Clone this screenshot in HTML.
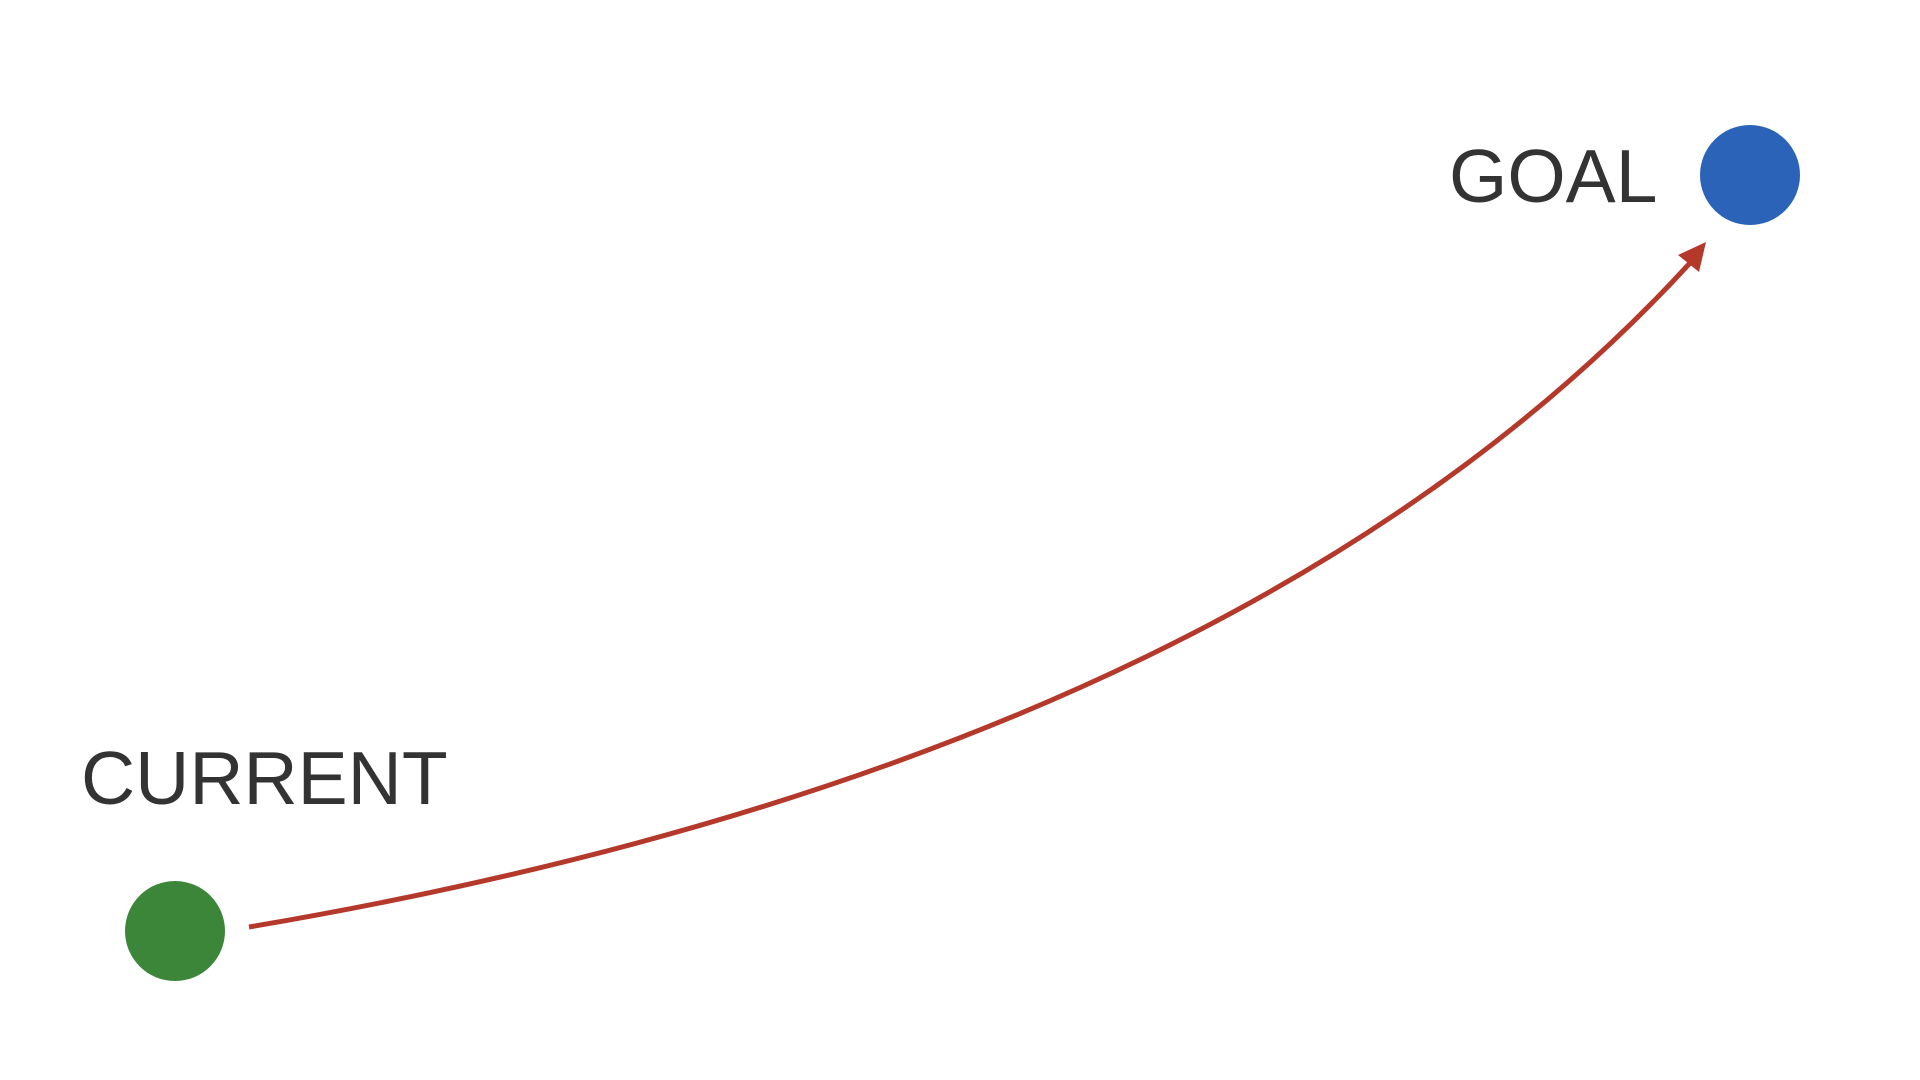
<!DOCTYPE html>
<html>
<head>
<meta charset="utf-8">
<style>
  html, body { margin: 0; padding: 0; background: #ffffff; }
  svg { display: block; }
  text { font-family: "Liberation Sans", sans-serif; fill: #333333; }
</style>
</head>
<body>
<svg id="chart" width="1920" height="1080" viewBox="0 0 1920 1080" xmlns="http://www.w3.org/2000/svg">
  <g id="layer"></g>
</svg>
<script>
const nodeNames = ["CURRENT", "GOAL"];
const nodeX = [175, 1750];
const nodeY = [931, 175];
const nodeColors = ["#3b8639", "#2b63b8"];

const svgNS = "http://www.w3.org/2000/svg";
const layer = document.getElementById("layer");

const sx = nodeX[0] + 74, sy = nodeY[0] - 4;
const ex = nodeX[1] - 60, ey = nodeY[1] + 88;
const cx = 1235, cy = 760;
const path = document.createElementNS(svgNS, "path");
path.setAttribute("d", `M${sx},${sy} Q${cx},${cy} ${ex},${ey}`);
path.setAttribute("fill", "none");
path.setAttribute("stroke", "#b5392a");
path.setAttribute("stroke-width", "5");


layer.appendChild(path);

const ah = document.createElementNS(svgNS, "polygon");
ah.setAttribute("points", `${nodeX[1]-44},${nodeY[1]+67} ${nodeX[1]-72},${nodeY[1]+80} ${nodeX[1]-51},${nodeY[1]+97}`);
ah.setAttribute("fill", "#b5392a");


layer.appendChild(ah);

nodeNames.forEach((name, i) => {
  const c = document.createElementNS(svgNS, "circle");
  c.setAttribute("cx", nodeX[i]);
  c.setAttribute("cy", nodeY[i]);
  c.setAttribute("r", 50);
  c.setAttribute("fill", nodeColors[i]);
  
  
  layer.appendChild(c);

  const t = document.createElementNS(svgNS, "text");
  t.textContent = name;
  t.setAttribute("font-size", "75");
  if (i === 0) {
    t.setAttribute("x", nodeX[i] - 94);
    t.setAttribute("y", nodeY[i] - 127);
  } else {
    t.setAttribute("x", nodeX[i] - 301);
    t.setAttribute("y", nodeY[i] + 27);
  }
  
  
  layer.appendChild(t);
});
</script>
</body>
</html>
